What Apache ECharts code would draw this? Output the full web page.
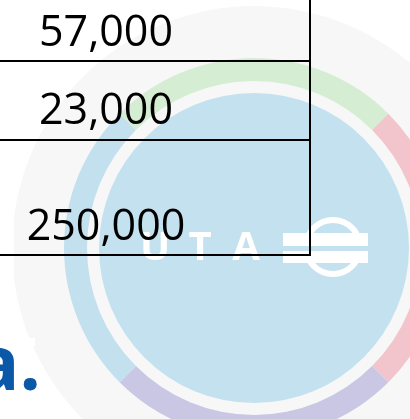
<!DOCTYPE html>
<html>
<head>
<meta charset="utf-8">
<script src="https://cdn.jsdelivr.net/npm/echarts@6/dist/echarts.min.js"></script>
<style>
  html, body { margin: 0; padding: 0; background: #ffffff; }
  #chart { width: 410px; height: 419px; }
</style>
</head>
<body>
<div id="chart"></div>
<script>
// table values (right column of the slide table)
const cellValues = ['57,000', '23,000', '250,000']
const cellTextY = [34, 112, 228]
const rowLines = [61, 140, 255]

// logo ring: four equal quarters, top / right / bottom / left
const ringParts = ['top', 'right', 'bottom', 'left']
const ringShare = [1, 1, 1, 1]
const ringColors = ['#d5eed3', '#f2c5cc', '#c9c7e4', '#c3e0ef']

const logoLetters = ['U', 'T', 'A']
const logoLetterX = [155, 200, 246]

const center = [254, 248]

let chart = echarts.init(document.getElementById('chart'))

let elements = []

// faint white shapes from the slide behind
elements.push({ type: 'rect', z: 50, shape: { x: 0, y: 150, width: 14, height: 190 }, style: { fill: '#ffffff' } })
elements.push({ type: 'rect', z: 50, shape: { x: 0, y: 338, width: 35, height: 8 }, style: { fill: '#ffffff' } })

// logo text + symbol
logoLetters.forEach((l, i) => {
    elements.push({
        type: 'text', z: 60, x: logoLetterX[i], y: 249,
        style: { text: l, fill: '#ffffff', font: 'bold 40px "Open Sans"', align: 'center', verticalAlign: 'middle' }
    })
})
elements.push({ type: 'circle', z: 60, shape: { cx: 333, cy: 247, r: 27 }, style: { fill: 'none', stroke: '#ffffff', lineWidth: 6 } })
elements.push({ type: 'rect', z: 61, shape: { x: 283, y: 233, width: 85, height: 30 }, style: { fill: '#ffffff' } })
elements.push({ type: 'rect', z: 62, shape: { x: 283, y: 246, width: 85, height: 5 }, style: { fill: '#c4e1ef' } })

// table lines
elements.push({ type: 'line', z: 100, shape: { x1: 310, y1: 0, x2: 310, y2: 256 }, style: { stroke: '#000', lineWidth: 2 } })
rowLines.forEach(y => {
    elements.push({ type: 'line', z: 100, shape: { x1: 0, y1: y, x2: 311, y2: y }, style: { stroke: '#000', lineWidth: 2 } })
})

// table values
cellValues.forEach((v, i) => {
    elements.push({
        type: 'text', z: 101, x: 106, y: cellTextY[i],
        style: { text: v, fill: '#000', font: '43px "Open Sans"', align: 'center', verticalAlign: 'middle' }
    })
})

// end of title word
elements.push({
    type: 'text', z: 101, x: 41, y: 406,
    style: { text: 'a.', fill: '#0b57a8', font: 'bold 75px "Open Sans"', align: 'right', verticalAlign: 'bottom' }
})

chart.setOption({
    animation: false,
    backgroundColor: '#ffffff',
    series: [
        {
            type: 'pie', silent: true, center: center, radius: [0, 242],
            label: { show: false }, labelLine: { show: false },
            itemStyle: { color: '#f7f7f7' },
            data: [{ name: 'bg', value: 1 }]
        },
        {
            type: 'pie', silent: true, center: center, radius: [167, 190], startAngle: 135,
            label: { show: false }, labelLine: { show: false },
            data: ringParts.map((p, i) => ({ name: p, value: ringShare[i], itemStyle: { color: ringColors[i] } }))
        },
        {
            type: 'pie', silent: true, center: center, radius: [0, 155],
            label: { show: false }, labelLine: { show: false },
            itemStyle: { color: '#c4e1ef' },
            data: [{ name: 'disc', value: 1 }]
        }
    ],
    graphic: { elements: elements }
})
</script>
</body>
</html>
